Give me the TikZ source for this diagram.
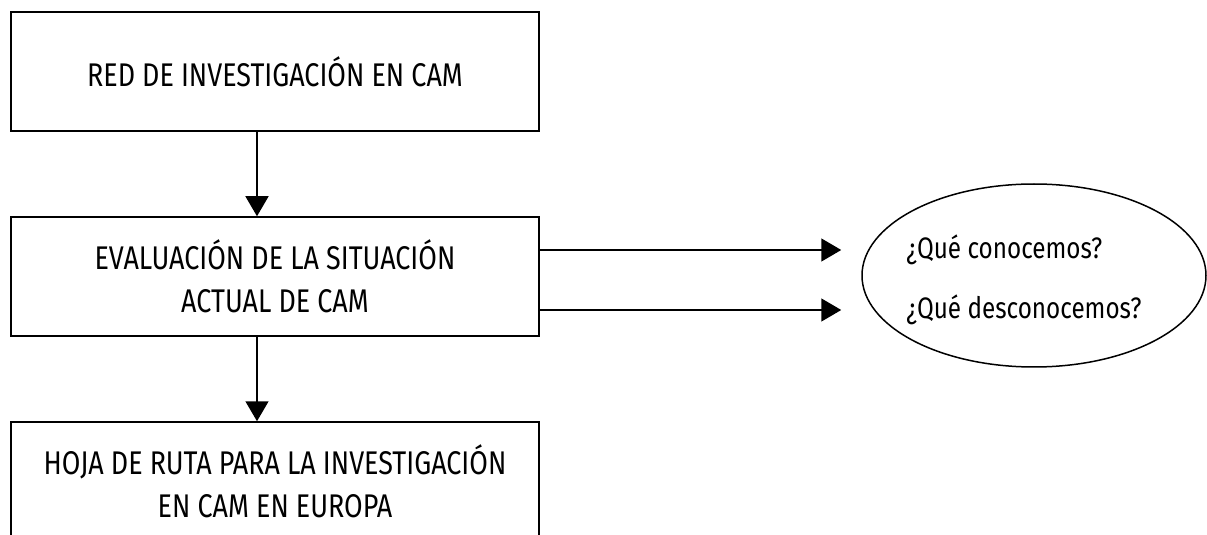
\documentclass[tikz,border=0pt]{standalone}
\usepackage{fontspec}
\setmainfont[FakeStretch=0.82]{Fira Sans}
\usetikzlibrary{arrows.meta,shapes.geometric}

\begin{document}
\begin{tikzpicture}[x=0.5pt,y=-0.5pt,
	caja/.style={draw,line width=0.75pt,minimum width=264pt,minimum height=59.5pt,align=center,font=\fontsize{16.4}{21.5}\selectfont},
	flecha/.style={line width=0.75pt,-{Triangle[length=10pt,width=11.5pt]}},
	pregunta/.style={anchor=west,inner sep=0pt,font=\fontsize{14.8}{17}\selectfont}]

	\useasboundingbox (0,0) rectangle (1207,535);

	\node[caja] (red) at (275,71.5) {RED DE INVESTIGACIÓN EN CAM};
	\node[caja] (eval) at (275,276.5) {EVALUACIÓN DE LA SITUACIÓN\\ACTUAL DE CAM};
	\node[caja] (hoja) at (275,481.5) {HOJA DE RUTA PARA LA INVESTIGACIÓN\\EN CAM EN EUROPA};

	\node[draw,ellipse,line width=0.75pt,minimum width=172pt,minimum height=91.5pt,inner sep=0pt] (elipse) at (1034,275.5) {};
	\node[pregunta] (conocemos) at (906,250) {¿Qué conocemos?};
	\node[pregunta] (desconocemos) at (906,310) {¿Qué desconocemos?};

	\draw[flecha] ([xshift=-9pt]red.south) -- ([xshift=-9pt]eval.north);
	\draw[flecha] ([xshift=-9pt]eval.south) -- ([xshift=-9pt]hoja.north);
	\draw[flecha] (eval.east |- conocemos) -- ([xshift=-10pt]elipse.west |- conocemos);
	\draw[flecha] (eval.east |- desconocemos) -- ([xshift=-10pt]elipse.west |- desconocemos);

\end{tikzpicture}
\end{document}
